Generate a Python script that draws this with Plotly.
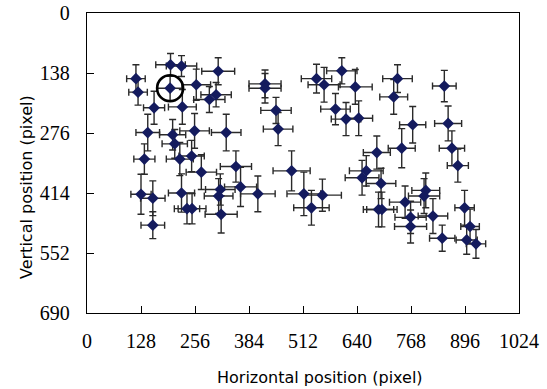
import plotly.graph_objects as go

x_pos = [116, 121, 198, 224, 197, 311, 259, 306, 290, 159, 226, 144, 203, 255, 330, 208, 136, 220,
         248, 353, 271, 128, 156, 224, 237, 249, 156, 316, 312, 318, 364, 405, 422, 422, 448, 453,
         544, 562, 604, 636, 589, 614, 644, 687, 736, 727, 847, 772, 856, 746, 865, 879, 485, 514,
         532, 558, 662, 652, 697, 691, 699, 754, 803, 799, 820, 767, 767, 842, 895, 908, 900, 922]
y_pos = [151, 182, 119, 122, 173, 134, 165, 188, 199, 218, 216, 275, 280, 271, 275, 301, 336, 336,
         329, 353, 366, 417, 426, 414, 450, 450, 488, 406, 421, 463, 400, 416, 163, 173, 224, 267,
         151, 165, 133, 170, 221, 244, 242, 321, 151, 193, 168, 257, 254, 311, 311, 351, 363, 416,
         448, 419, 363, 379, 392, 452, 452, 435, 408, 421, 467, 470, 491, 518, 448, 491, 522, 531]
x_err = [22, 22, 35, 36, 30, 39, 34, 36, 37, 25, 33, 28, 31, 35, 35, 30, 25, 32,
         30, 37, 36, 24, 29, 31, 30, 33, 28, 35, 34, 38, 38, 41, 38, 38, 36, 35,
         36, 38, 36, 40, 35, 35, 33, 32, 35, 33, 28, 31, 32, 32, 30, 25, 44, 40,
         42, 45, 40, 40, 35, 36, 36, 37, 33, 37, 35, 37, 38, 30, 23, 22, 25, 23]
y_err = [32, 30, 26, 24, 28, 31, 36, 28, 30, 38, 40, 42, 35, 40, 42, 33, 35, 38,
         36, 36, 40, 46, 40, 44, 35, 35, 31, 36, 40, 43, 45, 41, 32, 34, 30, 38,
         33, 40, 30, 40, 36, 38, 40, 38, 32, 40, 36, 42, 40, 45, 40, 38, 46, 50,
         40, 37, 35, 40, 35, 40, 40, 37, 40, 40, 40, 37, 38, 30, 40, 40, 33, 33]
highlight_index = 4

x_ticks = [0, 128, 256, 384, 512, 640, 768, 896, 1024]
y_ticks = [0, 138, 276, 414, 552, 690]
x_title = "Horizontal position (pixel)"
y_title = "Vertical position (pixel)"

fig = go.Figure()
fig.add_trace(go.Scatter(
    x=x_pos, y=y_pos, mode="markers",
    marker=dict(symbol="diamond", size=9, color="#141B5E", line=dict(width=0)),
    error_x=dict(type="data", array=x_err, visible=True, color="#2a2a2a", thickness=1.4, width=3.5),
    error_y=dict(type="data", array=y_err, visible=True, color="#2a2a2a", thickness=1.4, width=3.5),
    showlegend=False,
))

fig.add_shape(type="circle", xref="x", yref="y",
              xsizemode="pixel", ysizemode="pixel",
              xanchor=x_pos[highlight_index], yanchor=y_pos[highlight_index],
              x0=-13, x1=13, y0=-13, y1=13,
              line=dict(color="black", width=2.6))

tick_font = dict(family="Liberation Serif", size=20, color="black")
title_font = dict(family="DejaVu Sans", size=16, color="black")

fig.add_annotation(text=x_title, xref="paper", yref="paper", x=0.54, y=0,
                   xanchor="center", yanchor="middle", yshift=-64.7,
                   showarrow=False, font=title_font)
fig.add_annotation(text=y_title, xref="paper", yref="paper", x=0, y=0.42,
                   xanchor="center", yanchor="middle", xshift=-61, textangle=-90,
                   showarrow=False, font=title_font)

fig.update_layout(
    width=547, height=389,
    margin=dict(l=86.5, r=27.5, t=13.3, b=75.7),
    paper_bgcolor="white", plot_bgcolor="white",
    xaxis=dict(range=[0, 1024], tickvals=x_ticks, ticktext=[str(v) for v in x_ticks],
               ticks="inside", ticklen=7, tickcolor="black", tickwidth=1,
               showline=True, linecolor="black", linewidth=1.3, mirror=True,
               showgrid=False, zeroline=False, tickfont=tick_font,
               ticklabelstandoff=10, automargin=False),
    yaxis=dict(range=[690, 0], tickvals=y_ticks, ticktext=[str(v) for v in y_ticks],
               ticks="inside", ticklen=7, tickcolor="black", tickwidth=1,
               showline=True, linecolor="black", linewidth=1.3, mirror=True,
               showgrid=False, zeroline=False, tickfont=tick_font,
               ticklabelstandoff=12, automargin=False),
)

fig.write_html("out.html", config={"displayModeBar": False},
               post_script="document.body.style.margin='0';")
